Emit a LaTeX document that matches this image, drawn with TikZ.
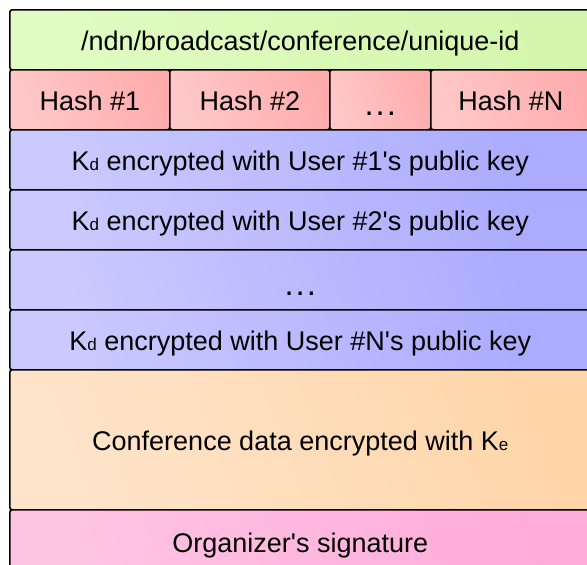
\documentclass[tikz,border=0pt]{standalone}
\usepackage{fontspec}
\setmainfont{Liberation Sans}
\definecolor{gA}{HTML}{E0FCC2}\definecolor{gB}{HTML}{D4F6AC}
\definecolor{rA}{HTML}{FFC8C8}\definecolor{rB}{HTML}{FFACAC}
\definecolor{bA}{HTML}{CACAFF}\definecolor{bB}{HTML}{ABABFF}
\definecolor{oA}{HTML}{FFE4CA}\definecolor{oB}{HTML}{FFD6AA}
\definecolor{pA}{HTML}{FFC4E4}\definecolor{pB}{HTML}{FFACDA}
\newcommand{\sbs}[1]{{\fontsize{17}{17}\selectfont #1}}
\newcommand{\myq}{\textquotesingle}
\newcommand{\mydots}{{\fontsize{33}{33}\selectfont .\hspace{2pt}.\hspace{2pt}.}}
\tikzset{
  cell/.style={draw=black, line width=1.6pt, rounded corners=2.5pt, inner sep=0pt,
    anchor=north west, font=\fontsize{27}{30}\selectfont,
    text height=22pt, text depth=0pt, align=center},
  dotrow/.style={text height=32pt, text depth=0pt},
  green/.style={cell, left color=gA, right color=gB, shading angle=110},
  red/.style={cell, left color=rA, right color=rB, shading angle=110},
  blue/.style={cell, left color=bA, right color=bB, shading angle=110},
  orange/.style={cell, left color=oA, right color=oB, shading angle=110},
  pink/.style={cell, left color=pA, right color=pB, shading angle=110},
}
\begin{document}
\begin{tikzpicture}[x=1pt,y=-1pt]
\useasboundingbox (0,0) rectangle (587,565);
\clip (0,0) rectangle (587,565);
\fill[white] (0,0) rectangle (587,565);
\node[green, minimum width=581pt, minimum height=60pt] (name) at (9,9) {/ndn/broadcast/conference/unique-id};
\node[red, minimum width=160pt, minimum height=60pt] (h1) at (9,69) {Hash \#1};
\node[red, minimum width=160pt, minimum height=60pt] (h2) at (169,69) {Hash \#2};
\node[red, dotrow, minimum width=101pt, minimum height=60pt] (hd) at (329,69) {\mydots};
\node[red, minimum width=160pt, minimum height=60pt] (hn) at (430,69) {Hash \#N};
\node[blue, minimum width=581pt, minimum height=60pt] (k1) at (9,129) {K\sbs{d} encrypted with User \#1\myq s public key};
\node[blue, minimum width=581pt, minimum height=60pt] (k2) at (9,189) {K\sbs{d} encrypted with User \#2\myq s public key};
\node[blue, dotrow, minimum width=581pt, minimum height=60pt] (kd) at (9,249) {\mydots};
\node[blue, minimum width=581pt, minimum height=60pt] (kn) at (9,309) {K\sbs{d} encrypted with User \#N\myq s public key};
\node[orange, minimum width=581pt, minimum height=140pt] (data) at (9,369) {Conference data encrypted with K\sbs{e}};
\node[pink, minimum width=581pt, minimum height=64pt] (sig) at (9,509) {Organizer\myq s signature};
\end{tikzpicture}
\end{document}
